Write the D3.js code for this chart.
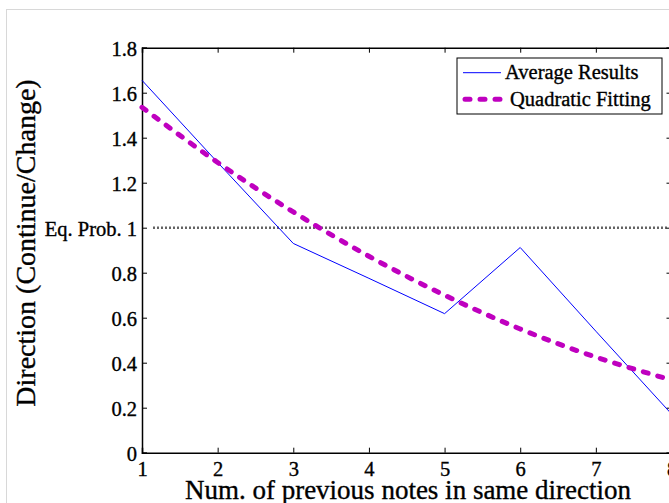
<!DOCTYPE html>
<html>
<head>
<meta charset="utf-8">
<script src="https://cdn.jsdelivr.net/npm/d3@7"></script>
<style>
  body { margin: 0; background: #fff; }
  svg { display: block; font-family: "Liberation Serif", "Times New Roman", serif; }
  text { stroke: #000; stroke-width: 0.35px; fill: #000; }
</style>
</head>
<body>
<div id="chart"></div>
<script>
// data
const steps = [1, 2, 3, 4, 5, 6, 7, 8];
const averageResults = [1.655, 1.29, 0.93, 0.775, 0.618, 0.912, 0.54, 0.172];
const quadraticFit = [1.535, 1.29, 1.07, 0.873, 0.70, 0.55, 0.425, 0.323];
const yTicks = [0, 0.2, 0.4, 0.6, 0.8, 1, 1.2, 1.4, 1.6, 1.8];
const yTickLabels = ["0", "0.2", "0.4", "0.6", "0.8", "Eq. Prob. 1", "1.2", "1.4", "1.6", "1.8"];
const eqLine = { from: 1.15, to: 8, value: 1 };
const legendItems = ["Average Results", "Quadratic Fitting"];

const W = 669, H = 503;
const blue = "#0000ff", magenta = "#bf00bf";

const svg = d3.select("#chart").append("svg")
    .attr("width", W)
    .attr("height", H);

// light figure border
svg.append("rect")
    .attr("x", 6.5).attr("y", 9.5)
    .attr("width", W).attr("height", H)
    .attr("fill", "none")
    .attr("stroke", "#d8d8d8");

const x = d3.scaleLinear().domain([1, 8]).range([142, 671.5]);
const y = d3.scaleLinear().domain([0, 1.8]).range([452.7, 47.7]);

// axes (ticks pointing inward, box all round)
const gx = svg.append("g")
    .attr("transform", `translate(0,${y(0)})`)
    .call(d3.axisBottom(x).tickValues(steps).tickSize(-5).tickPadding(9).tickFormat(d3.format("d")));
const gxTop = svg.append("g")
    .attr("transform", `translate(0,${y(1.8)})`)
    .call(d3.axisTop(x).tickValues(steps).tickSize(-5).tickFormat(""));
const gy = svg.append("g")
    .attr("transform", `translate(${x(1)},0)`)
    .call(d3.axisLeft(y).tickValues(yTicks).tickSize(-5).tickPadding(5)
        .tickFormat((d, i) => yTickLabels[i]));
const gyRight = svg.append("g")
    .attr("transform", `translate(${x(8)},0)`)
    .call(d3.axisRight(y).tickValues(yTicks).tickSize(-5).tickFormat(""));

[gx, gxTop, gy, gyRight].forEach(g => {
    g.select(".domain").attr("stroke", "#000").attr("stroke-width", 1.5);
    g.selectAll(".tick line").attr("stroke", "#000");
});
[gx, gy].forEach(g => {
    g.selectAll(".tick text")
        .attr("font-size", 20.5)
        .attr("fill", "#000")
        .attr("font-family", "Liberation Serif");
});
gy.selectAll(".tick text").attr("dy", "0.36em");

// equal probability reference line
svg.append("line")
    .attr("x1", x(eqLine.from)).attr("x2", x(eqLine.to))
    .attr("y1", y(eqLine.value)).attr("y2", y(eqLine.value))
    .attr("stroke", "#111")
    .attr("stroke-width", 2.5)
    .attr("stroke-dasharray", "1.3,2.7");

// series
const avgLine = d3.line().x((d, i) => x(steps[i])).y(d => y(d));
const fitLine = d3.line().x((d, i) => x(steps[i])).y(d => y(d)).curve(d3.curveNatural);

svg.append("path")
    .datum(averageResults)
    .attr("d", avgLine)
    .attr("fill", "none")
    .attr("stroke", blue)
    .attr("stroke-width", 1);

svg.append("path")
    .datum(quadraticFit)
    .attr("d", fitLine)
    .attr("fill", "none")
    .attr("stroke", magenta)
    .attr("stroke-width", 5)
    .attr("stroke-linecap", "round")
    .attr("stroke-dasharray", "5,10");

// axis titles
svg.append("text")
    .attr("x", 408).attr("y", 499)
    .attr("text-anchor", "middle")
    .attr("font-size", 27)
    .text("Num. of previous notes in same direction");

svg.append("text")
    .attr("transform", "translate(35,243) rotate(-90)")
    .attr("text-anchor", "middle")
    .attr("font-size", 28)
    .text("Direction (Continue/Change)");

// legend
const legend = svg.append("g");
legend.append("rect")
    .attr("x", 457).attr("y", 58)
    .attr("width", 205).attr("height", 56)
    .attr("fill", "#fff")
    .attr("stroke", "#000");

const legendStyles = [
    { color: blue, width: 1, dash: null, cap: "butt" },
    { color: magenta, width: 5, dash: "5,10", cap: "round" }
];
legendItems.forEach((name, i) => {
    const ly = 72.7 + i * 26.6;
    const st = legendStyles[i];
    legend.append("line")
        .attr("x1", i ? 465 : 463).attr("x2", 501)
        .attr("y1", ly).attr("y2", ly)
        .attr("stroke", st.color)
        .attr("stroke-width", st.width)
        .attr("stroke-linecap", st.cap)
        .attr("stroke-dasharray", st.dash);
    legend.append("text")
        .attr("x", i ? 510 : 505).attr("y", ly + 6.5)
        .attr("font-size", 20.5)
        .text(name);
});
</script>
</body>
</html>
